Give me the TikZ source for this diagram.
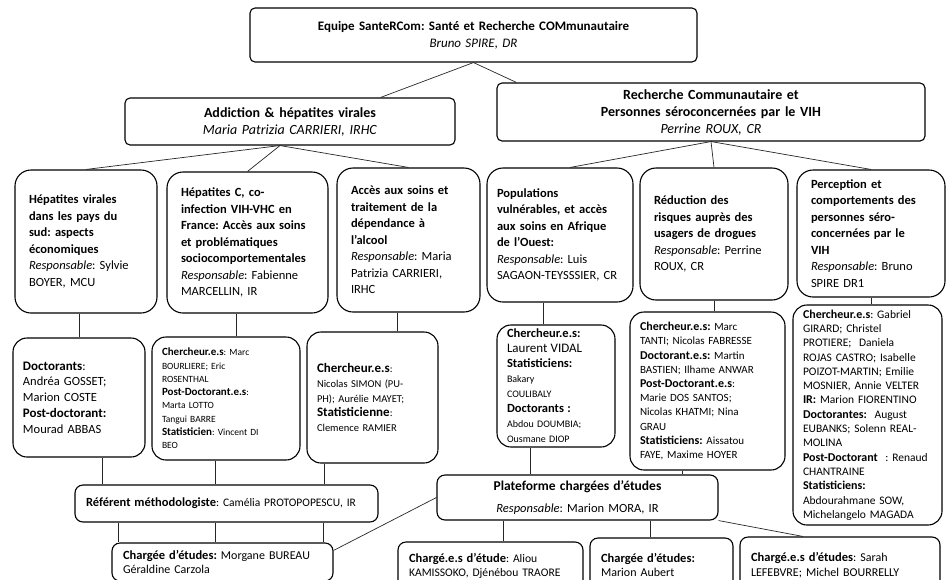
\documentclass[tikz,border=0pt]{standalone}
\usepackage{fontspec}
\setmainfont{Carlito}
\frenchspacing
\newcommand{\lbl}[2]{{\fontsize{#1}{#1}\selectfont\bfseries #2}}
\begin{document}
\begin{tikzpicture}[x=1pt,y=-1pt,
  head/.style={draw,rounded corners=5pt,line width=1.1pt,align=center,inner xsep=8pt,inner ysep=0pt},
  theme/.style={draw,rounded corners=16pt,line width=1.1pt,align=left,inner xsep=14pt,inner ysep=0pt,font=\fontsize{12.5}{16.5}\selectfont},
  team/.style={draw,rounded corners=14pt,line width=1.1pt,align=left,inner xsep=10pt,inner ysep=0pt},
  unit/.style={draw,rounded corners=8pt,line width=1.1pt,align=left,inner xsep=11pt,inner ysep=0pt,font=\fontsize{12}{14.5}\selectfont},
  link/.style={draw=black!85,line width=0.7pt}]
\useasboundingbox (0,0) rectangle (948,579);
% direction et axes
\node[head,minimum width=447pt,minimum height=54pt,text width=431pt,font=\fontsize{13}{17}\selectfont] (equipe) at (473.5,35) {\textbf{Equipe SanteRCom: Santé et Recherche COMmunautaire}\\\textit{Bruno SPIRE, DR}};
\node[head,minimum width=330pt,minimum height=47pt,text width=314pt,font=\fontsize{14}{17}\selectfont] (addict) at (290,121.5) {\textbf{Addiction \& hépatites virales}\\\textit{Maria Patrizia CARRIERI, IRHC}};
\node[head,minimum width=428pt,minimum height=58pt,text width=412pt,font=\fontsize{14}{17}\selectfont] (rcvih) at (711,112) {\textbf{Recherche Communautaire et}\\\textbf{Personnes séroconcernées par le VIH}\\\textit{Perrine ROUX, CR}};
% thematiques
\node[theme,minimum width=142pt,minimum height=143pt,text width=114pt] (hepsud) at (86,241.5) {{\bfseries Hépatites virales\\dans les pays du\\sud: aspects\\économiques}\\\textit{Responsable}: Sylvie\\BOYER, MCU};
\node[theme,minimum width=161pt,minimum height=141pt,text width=133pt] (hepc) at (247.5,242.5) {{\bfseries Hépatites C, co-\\infection VIH-VHC en\\France: Accès aux soins\\et problématiques\\sociocomportementales}\\\textit{Responsable}: Fabienne\\MARCELLIN, IR};
\node[theme,minimum width=143pt,minimum height=144pt,text width=115pt] (alcool) at (408.5,240) {{\bfseries Accès aux soins et\\traitement de la\\dépendance à\\l’alcool}\\\textit{Responsable}: Maria\\Patrizia CARRIERI,\\IRHC};
\node[theme,inner xsep=10pt,minimum width=146pt,minimum height=134pt,text width=126pt] (afrique) at (560,235) {{\bfseries Populations\\vulnérables, et accès\\aux soins en Afrique\\de l’Ouest:}\\\textit{Responsable}: Luis\\SAGAON-TEYSSSIER, CR};
\node[theme,minimum width=148pt,minimum height=132pt,text width=120pt] (drogues) at (714,234) {{\bfseries Réduction des\\risques auprès des\\usagers de drogues}\\\textit{Responsable}: Perrine\\ROUX, CR};
\node[theme,minimum width=148pt,minimum height=127pt,text width=120pt] (percep) at (871,233.5) {{\bfseries Perception et\\comportements des\\personnes séro-\\concernées par le\\VIH}\\\textit{Responsable}: Bruno\\SPIRE DR1};
% equipes
\node[team,minimum width=132pt,minimum height=119pt,text width=112pt,font=\fontsize{12.5}{15.8}\selectfont] (tsud) at (79,397.5) {\lbl{13}{Doctorants}:\\Andréa GOSSET;\\Marion COSTE\\\lbl{13}{Post-doctorant:}\\Mourad ABBAS};
\node[team,minimum width=148pt,minimum height=123pt,text width=128pt,font=\fontsize{9.5}{13.3}\selectfont] (thepc) at (226,398.5) {\lbl{11}{Chercheur.e.s}: Marc\\BOURLIERE; Eric\\ROSENTHAL\\\lbl{11}{Post-Doctorant.e.s}:\\Marta LOTTO\\Tangui BARRE\\\lbl{11}{Statisticien}: Vincent DI\\BEO};
\node[team,minimum width=131pt,minimum height=131pt,text width=111pt,font=\fontsize{10.5}{14.6}\selectfont] (talc) at (372.5,397.5) {\lbl{13}{Chercheur.e.s}:\\Nicolas SIMON (PU-\\PH); Aurélie MAYET;\\\lbl{13}{Statisticienne}:\\Clemence RAMIER};
\node[team,minimum width=118pt,minimum height=122pt,text width=98pt,font=\fontsize{10}{15}\selectfont] (tafr) at (556,386) {\lbl{12.5}{Chercheur.e.s:}\\{\fontsize{13}{15}\selectfont Laurent VIDAL}\\\lbl{12.5}{Statisticiens:}\\Bakary\\COULIBALY\\\lbl{12.5}{Doctorants :}\\Abdou DOUMBIA;\\Ousmane DIOP};
\node[team,minimum width=155pt,minimum height=158pt,text width=135pt,font=\fontsize{11}{14.2}\selectfont] (tdrog) at (707.5,391) {\lbl{12}{Chercheur.e.s:} Marc\\TANTI; Nicolas FABRESSE\\\lbl{12}{Doctorant.e.s:} Martin\\BASTIEN; Ilhame ANWAR\\\lbl{12}{Post-Doctorant.e.s}:\\Marie DOS SANTOS;\\Nicolas KHATMI; Nina\\GRAU\\\lbl{12}{Statisticiens:} Aissatou\\FAYE, Maxime HOYER};
\node[team,minimum width=149pt,minimum height=220pt,text width=129pt,font=\fontsize{11.5}{14.3}\selectfont] (tperc) at (867.5,415) {\lbl{12}{Chercheur.e.s}: Gabriel\\GIRARD; Christel\\PROTIERE;~ Daniela\\ROJAS CASTRO; Isabelle\\POIZOT-MARTIN; Emilie\\MOSNIER, Annie VELTER\\\lbl{12}{IR:} Marion FIORENTINO\\\lbl{12}{Doctorantes:}~ August\\EUBANKS; Solenn REAL-\\MOLINA\\\lbl{12}{Post-Doctorant}~ : Renaud\\CHANTRAINE\\\lbl{12}{Statisticiens:}\\Abdourahmane SOW,\\Michelangelo MAGADA};
% plateformes
\node[unit,minimum width=303pt,minimum height=37pt,text width=281pt,font=\fontsize{11.5}{14}\selectfont] (refm) at (226.5,503.5) {\lbl{12.5}{Référent méthodologiste}: Camélia PROTOPOPESCU, IR};
\node[unit,align=center,minimum width=281pt,minimum height=45pt,text width=259pt,font=\fontsize{12.5}{22}\selectfont] (plat) at (577.5,497.5) {\lbl{13.5}{Plateforme chargées d’études}\\\textit{Responsable}: Marion MORA, IR};
\node[unit,minimum width=221pt,minimum height=38pt,text width=199pt] (mor) at (222.5,562) {\lbl{12.5}{Chargée d’études:} Morgane BUREAU\\Géraldine Carzola};
\node[unit,minimum width=185pt,minimum height=48pt,text width=163pt,font=\fontsize{11.6}{14.5}\selectfont] (ali) at (490.5,566) {\lbl{12.5}{Chargé.e.s d’étude}: Aliou\\KAMISSOKO, Djénébou TRAORE};
\node[unit,minimum width=143pt,minimum height=54pt,text width=121pt] (aub) at (661.5,565) {\lbl{12.5}{Chargée d’études:}\\Marion Aubert};
\node[unit,minimum width=200pt,minimum height=56pt,text width=178pt] (sar) at (840,565) {\lbl{12.5}{Chargé.e.s d’études}: Sarah\\LEFEBVRE; Michel BOURRELLY};
% liens
\draw[link] (equipe.south) -- ([xshift=-75pt]addict.north east);
\draw[link] (equipe.south) -- ([xshift=20pt]rcvih.north west);
\coordinate (addS) at ([xshift=-10pt]addict.south);
\draw[link] (addS) -- (hepsud.north);
\draw[link] (addS) -- (hepc.north);
\draw[link] (addS) -- (alcool.north);
\draw[link] (rcvih.south) -- ([xshift=10pt]afrique.north);
\draw[link] (rcvih.south) -- (drogues.north);
\draw[link] (rcvih.south) -- (percep.north);
\draw[link] (hepsud.south -| tsud.north) -- (tsud.north);
\draw[link] ([xshift=10pt]thepc.north) -- ([xshift=10pt]thepc.north |- hepc.south);
\draw[link] ([xshift=24.5pt]talc.north) -- ([xshift=24.5pt]talc.north |- alcool.south);
\draw[link] ([xshift=-13pt]tafr.north) -- ([xshift=-13pt]tafr.north |- afrique.south);
\draw[link] (drogues.south) -- (drogues.south |- tdrog.north);
\draw[link] (percep.south) -- (percep.south |- tperc.north);
\draw[link] ([xshift=23pt]tsud.south) -- ([xshift=23pt]tsud.south |- refm.north);
\draw[link] ([xshift=-11pt]thepc.south) -- ([xshift=-11pt]thepc.south |- refm.north);
\draw[link] ([xshift=-48.5pt]talc.south) -- ([xshift=-48.5pt]talc.south |- refm.north);
\draw[link] ([xshift=-108.5pt]refm.south) -- ([xshift=-108.5pt]refm.south |- mor.north);
\draw[link] ([xshift=-11.5pt]refm.south) -- ([xshift=-11.5pt]refm.south |- mor.north);
\draw[link] ([xshift=96.5pt]refm.south) -- ([xshift=96.5pt]refm.south |- mor.north);
\draw[link] ([xshift=-26pt]tafr.south) -- ([xshift=-26pt]tafr.south |- plat.north);
\draw[link] ([xshift=-25.5pt]tdrog.south) -- ([xshift=-25.5pt]tdrog.south |- plat.north);
\draw[link] (plat.west) -- ([yshift=-8pt]mor.north east);
\draw[link] ([xshift=-74.5pt]plat.south) -- ([xshift=-74.5pt]plat.south |- ali.north);
\draw[link] ([xshift=72.5pt]plat.south) -- ([xshift=72.5pt]plat.south |- aub.north);
\draw[link] (plat.south east) -- ([xshift=-37pt]sar.north);
\end{tikzpicture}
\end{document}
